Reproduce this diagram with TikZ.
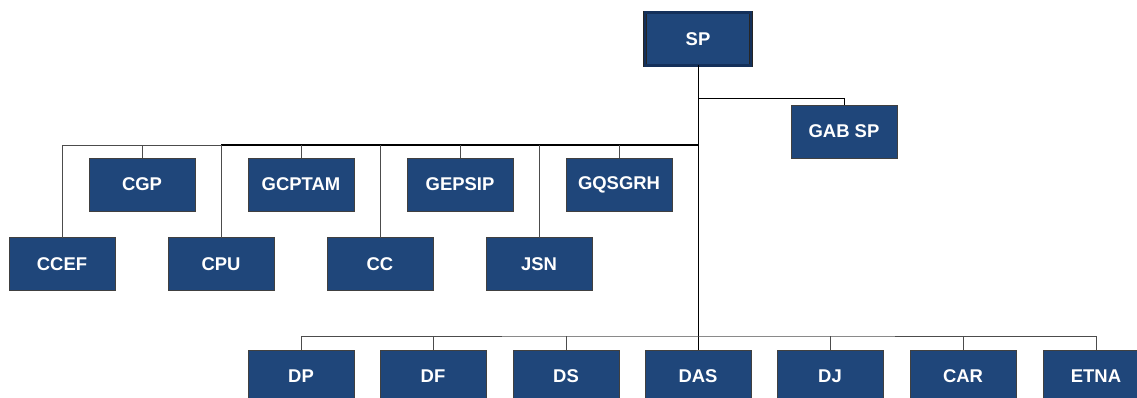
\documentclass[tikz,border=0pt]{standalone}
\usepackage{fontspec}
\setmainfont{Liberation Sans}
\definecolor{boxblue}{HTML}{1F467A}
\definecolor{boxnavy}{HTML}{14305A}
\tikzset{
    unit/.style={draw=black!75, fill=boxblue, text=white, font=\bfseries\fontsize{10.5}{12}\selectfont,
        minimum width=2.12cm, minimum height=1.06cm, inner sep=0pt, outer sep=0pt},
    head/.style={unit, draw=black!85, double=boxnavy, double distance=1.3pt},
    link/.style={draw=black!70, line width=0.5pt}
}
\begin{document}
\begin{tikzpicture}[x=0.02cm, y=-0.02cm]
        \useasboundingbox (0,0) rectangle (1137,398);
        % top
        \node[head] (sp) at (698,39) {SP};
        \node[unit] (gab) at (844,131.5) {GAB SP};
        % upper row
        \node[unit] (cgp) at (142,184.5) {CGP};
        \node[unit] (gcptam) at (301,184.5) {GCPTAM};
        \node[unit] (gepsip) at (460,184.5) {GEPSIP};
        \node[unit] (gqsgrh) at (619,184.5) {GQSGRH};
        % lower row
        \node[unit] (ccef) at (62,264) {CCEF};
        \node[unit] (cpu) at (221,264) {CPU};
        \node[unit] (cc) at (380,264) {CC};
        \node[unit] (jsn) at (539,264) {JSN};
        % directions
        \node[unit] (dp) at (301,376.5) {DP};
        \node[unit] (df) at (433,376.5) {DF};
        \node[unit] (ds) at (566,376.5) {DS};
        \node[unit] (das) at (698,376.5) {DAS};
        \node[unit] (dj) at (830,376.5) {DJ};
        \node[unit] (car) at (963,376.5) {CAR};
        \node[unit] (etna) at (1096,376.5) {ETNA};
        % buses
        \coordinate (gabjoin) at (698,98);
        \coordinate (midbus) at (698,145);
        \coordinate (lowbus) at (698,336);
        \draw[link, black] (sp) -- (das);
        \draw[link, black] (gabjoin) -| (gab.north);
        \draw[link] (ccef.north) |- (midbus);
        \draw[black, line width=1.1pt] (cpu.north |- midbus) -- (midbus);
        \foreach \n in {cgp,gcptam,gepsip,gqsgrh,cpu,cc,jsn}
            \draw[link] (\n.north) -- (\n.north |- midbus);
        \draw[link] (dp.north) |- (lowbus) -| (etna.north);
        \foreach \n in {df,ds,dj,car}
            \draw[link] (\n.north) -- (\n.north |- lowbus);
\end{tikzpicture}
\end{document}
